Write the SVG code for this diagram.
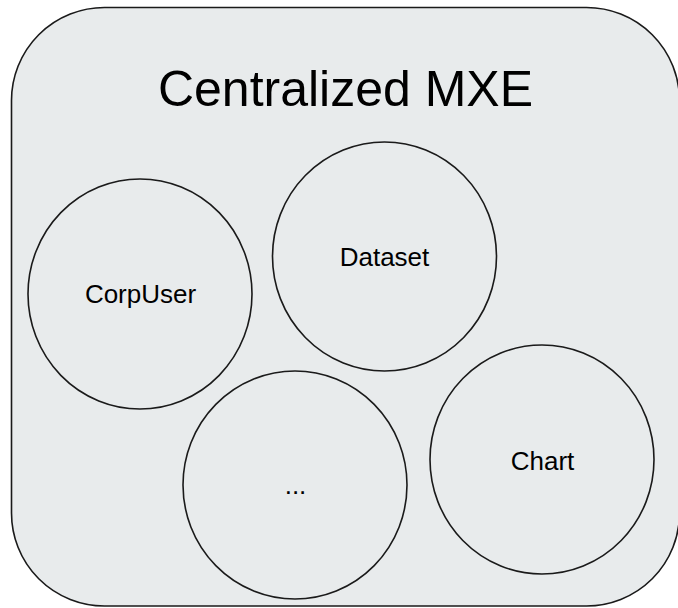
<svg xmlns="http://www.w3.org/2000/svg" width="678" height="608" viewBox="0 0 678 608">
  <style>
    .box { fill: #e8ebec; stroke: #1a1a1a; stroke-width: 1.6; }
    .node { fill: #e8ebec; stroke: #1a1a1a; stroke-width: 1.6; }
    .lbl { font-family: "Liberation Sans", Arial, sans-serif; font-size: 26px; fill: #000; text-anchor: middle; }
    .title { font-family: "Liberation Sans", Arial, sans-serif; font-size: 50px; fill: #000; text-anchor: middle; }
  </style>
  <rect width="678" height="608" fill="#ffffff"/>
  <g id="container">
    <rect class="box" x="11.5" y="7.5" width="668" height="598.5" rx="93" ry="93"/>
    <text class="title" x="345.5" y="106">Centralized MXE</text>
  </g>
  <g id="connectors"></g>
  <g id="corpuser">
    <ellipse class="node" cx="140" cy="294" rx="112" ry="115"/>
    <text class="lbl" x="140.5" y="303">CorpUser</text>
  </g>
  <g id="dataset">
    <ellipse class="node" cx="384.5" cy="256.5" rx="112" ry="114.5"/>
    <text class="lbl" x="384.5" y="266">Dataset</text>
  </g>
  <g id="more">
    <ellipse class="node" cx="295" cy="485" rx="112" ry="114"/>
    <text class="lbl" x="295.5" y="494">...</text>
  </g>
  <g id="chart">
    <ellipse class="node" cx="542" cy="459.5" rx="112" ry="114.5"/>
    <text class="lbl" x="542.5" y="470">Chart</text>
  </g>
</svg>
